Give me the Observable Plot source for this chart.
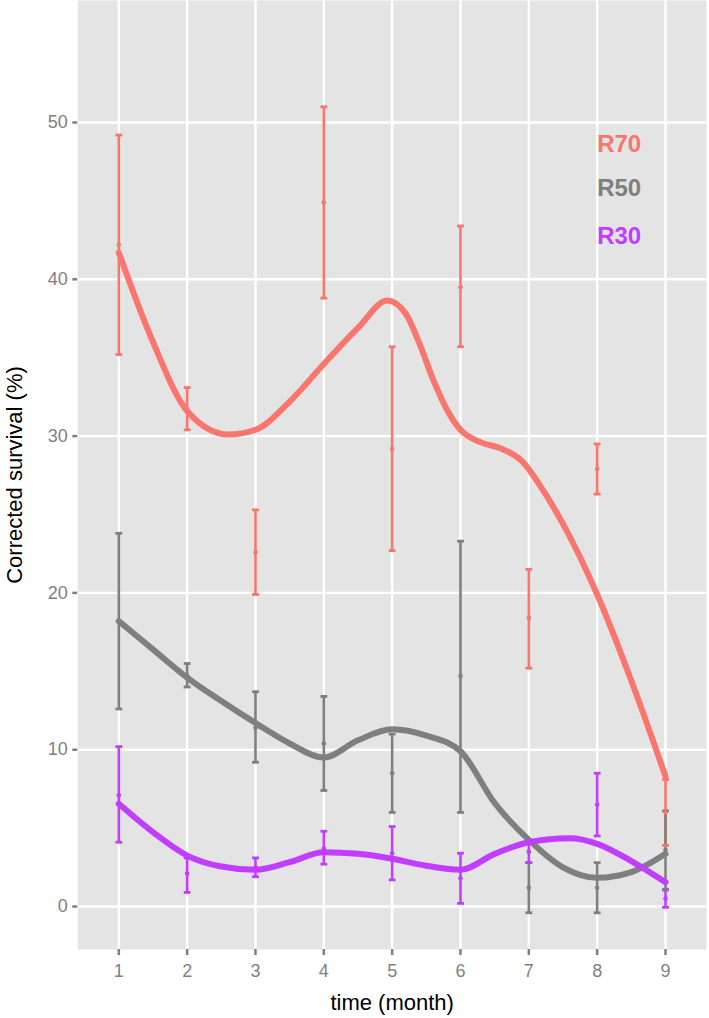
<!DOCTYPE html>
<html><head><meta charset="utf-8">
<script src="https://cdn.jsdelivr.net/npm/d3@7"></script>
<script src="https://cdn.jsdelivr.net/npm/@observablehq/plot@0.6"></script>
<style>body{margin:0;background:#fff} svg{display:block}</style>
</head><body><div id="chart"></div>
<script>
// ---- data ----
const months = [1, 2, 3, 4, 5, 6, 7, 8, 9];
const series = ["R70", "R50", "R30"];
const colors = ["#F8766D", "#7F7F7F", "#BF3EFF"];
const yTicks = [0, 10, 20, 30, 40, 50];

const r70Mean = [42.2, 31.7, 22.6, 44.9, 29.2, 39.5, 18.4, 27.9, 6.0];
const r70Lo   = [35.2, 30.4, 19.9, 38.8, 22.7, 35.7, 15.2, 26.3, 3.9];
const r70Hi   = [49.2, 33.1, 25.3, 51.0, 35.7, 43.4, 21.5, 29.5, 8.1];

const r50Mean = [18.2, 14.7, 11.4, 10.4, 8.5, 14.7, 1.2, 1.2, 3.6];
const r50Lo   = [12.6, 14.0, 9.2, 7.4, 6.0, 6.0, -0.4, -0.4, 1.1];
const r50Hi   = [23.8, 15.5, 13.7, 13.4, 11.0, 23.3, 2.8, 2.8, 6.1];

const r30Mean = [7.1, 2.1, 2.5, 3.7, 3.4, 1.8, 3.5, 6.5, 0.5];
const r30Lo   = [4.1, 0.9, 1.9, 2.7, 1.7, 0.2, 2.8, 4.5, -0.05];
const r30Hi   = [10.2, 3.1, 3.1, 4.8, 5.1, 3.4, 4.2, 8.5, 1.05];

// smoothed curves
const r70FitX = [1, 1.5, 2, 2.6, 3, 3.5, 4, 4.5, 4.93, 5.2, 5.4, 5.6, 5.8, 6, 6.3, 6.6, 6.9, 7.2, 7.5, 8, 8.5, 9];
const r70FitY = [41.7, 36.0, 31.6, 30.1, 30.4, 32.2, 34.6, 36.9, 38.65, 37.8, 35.9, 33.6, 31.7, 30.4, 29.6, 29.2, 28.4, 26.6, 24.4, 19.9, 14.4, 8.3];
const r50FitX = [1, 1.5, 2, 2.5, 3, 3.5, 4, 4.5, 5, 5.5, 6, 6.5, 7, 7.5, 8, 8.5, 9];
const r50FitY = [18.2, 16.4, 14.6, 13.1, 11.7, 10.4, 9.5, 10.6, 11.3, 10.9, 9.9, 6.6, 4.25, 2.5, 1.83, 2.19, 3.36];
const r30FitX = [1, 1.5, 2, 2.5, 3, 3.5, 4, 4.5, 5, 5.5, 6, 6.5, 7, 7.6, 8, 8.5, 9];
const r30FitY = [6.55, 4.74, 3.25, 2.55, 2.34, 2.83, 3.46, 3.36, 3.05, 2.6, 2.34, 3.36, 4.1, 4.35, 4.0, 2.9, 1.55];

const legendY = [48.6, 45.8, 42.75];

// ---- tables ----
const means = [r70Mean, r50Mean, r30Mean];
const los = [r70Lo, r50Lo, r30Lo];
const his = [r70Hi, r50Hi, r30Hi];
const fitXs = [r70FitX, r50FitX, r30FitX];
const fitYs = [r70FitY, r50FitY, r30FitY];

const rows = [];
series.forEach((s, i) => months.forEach((m, j) =>
  rows.push({series: s, month: m, mean: means[i][j], lo: los[i][j], hi: his[i][j]})));
const fits = [];
series.forEach((s, i) => fitXs[i].forEach((x, j) =>
  fits.push({series: s, month: x, value: fitYs[i][j]})));

const capHalf = 0.05;
const tickColor = "#7F7F7F";

const chart = Plot.plot({
  width: 709,
  height: 1018,
  marginLeft: 77.3,
  marginRight: 3,
  marginTop: 0,
  marginBottom: 69,
  style: {fontFamily: "'Liberation Sans', Arial, Helvetica, sans-serif", background: "#fff"},
  x: {domain: [0.4, 9.6]},
  y: {domain: [-2.74, 57.78]},
  color: {domain: series, range: colors},
  marks: [
    Plot.frame({fill: "#E4E4E4", stroke: "none"}),
    Plot.gridY(yTicks, {stroke: "white", strokeOpacity: 1, strokeWidth: 2.4}),
    Plot.gridX(months, {stroke: "white", strokeOpacity: 1, strokeWidth: 2.4}),
    Plot.axisY(yTicks, {tickSize: 5, tickPadding: 5, fontSize: 18, color: tickColor, strokeWidth: 2.5, label: null}),
    Plot.axisX(months, {tickSize: 6, tickPadding: 9, fontSize: 18, color: tickColor, strokeWidth: 2.5, label: null}),
    Plot.ruleX(rows, {x: "month", y1: "lo", y2: "hi", stroke: "series", strokeWidth: 2.6}),
    Plot.link(rows, {x1: d => d.month - capHalf, x2: d => d.month + capHalf, y1: "hi", y2: "hi", stroke: "series", strokeWidth: 2.8}),
    Plot.link(rows, {x1: d => d.month - capHalf, x2: d => d.month + capHalf, y1: "lo", y2: "lo", stroke: "series", strokeWidth: 2.8}),
    Plot.dot(rows, {x: "month", y: "mean", fill: "series", r: 2.3}),
    Plot.line(fits, {x: "month", y: "value", z: "series", stroke: "series", strokeWidth: 6, curve: "monotone-x"}),
    Plot.text(series, {x: () => 8, y: (d, i) => legendY[i], text: d => d, fill: d => d,
      textAnchor: "start", fontSize: 24, fontWeight: "bold"}),
    Plot.text(["time (month)"], {frameAnchor: "bottom", dy: 53, text: d => d, fontSize: 22,
      fill: "black", textAnchor: "middle", lineAnchor: "middle"}),
    Plot.text(["Corrected survival (%)"], {frameAnchor: "left", dx: -63, rotate: -90, text: d => d,
      fontSize: 22, fill: "black", textAnchor: "middle", lineAnchor: "middle"})
  ]
});
document.getElementById("chart").appendChild(chart);
</script>
</body></html>
